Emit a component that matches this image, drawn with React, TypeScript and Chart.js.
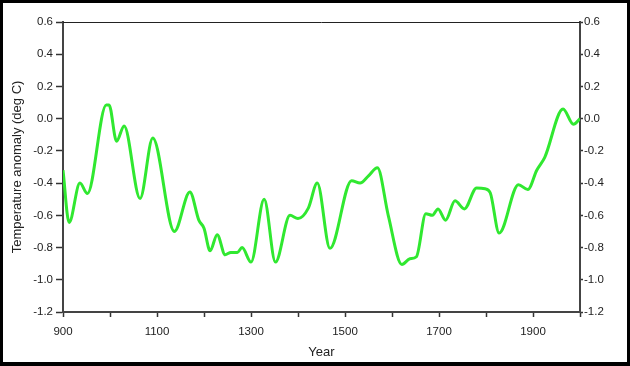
import React, { useEffect, useRef } from "react";
import { Chart, registerables } from "chart.js";

Chart.register(...registerables);

const years: number[] = [
  900, 913, 936, 952, 992, 998, 1014, 1030, 1064, 1091, 1137, 1170, 1189, 1200,
  1213, 1228, 1245, 1257, 1271, 1281, 1300, 1328, 1352, 1383, 1400, 1422, 1441,
  1468, 1514, 1532, 1550, 1569, 1592, 1621, 1638, 1652, 1672, 1686, 1698, 1714,
  1734, 1754, 1780, 1798, 1809, 1828, 1869, 1889, 1908, 1925, 1964, 1986, 2000,
];

const anomaly: number[] = [
  -0.32, -0.645, -0.4, -0.465, 0.085, 0.085, -0.14, -0.045, -0.495, -0.12, -0.7,
  -0.455, -0.63, -0.68, -0.82, -0.72, -0.845, -0.83, -0.83, -0.8, -0.89, -0.5,
  -0.89, -0.6, -0.62, -0.555, -0.4, -0.805, -0.385, -0.4, -0.355, -0.305, -0.6,
  -0.905, -0.87, -0.857, -0.59, -0.6, -0.56, -0.63, -0.51, -0.56, -0.43, -0.435,
  -0.46, -0.71, -0.41, -0.44, -0.32, -0.24, 0.06, -0.035, 0.0,
];

const xMin = 900;
const xMax = 2000;
const xStep = 100;
const xLabelEvery = 200;
const yMin = -1.2;
const yMax = 0.6;
const yStep = 0.2;
const yTitle = "Temperature anomaly (deg C)";
const xTitle = "Year";

const FONT = "Arial, 'Liberation Sans', sans-serif";

const framePlugin = {
  id: "frame",
  beforeDraw(chart: any) {
    const { ctx, width, height } = chart;
    ctx.save();
    ctx.fillStyle = "#ffffff";
    ctx.fillRect(0, 0, width, height);
    ctx.restore();
  },
  afterDraw(chart: any) {
    const { ctx, width, height, chartArea } = chart;
    ctx.save();
    ctx.strokeStyle = "#222";
    ctx.lineWidth = 1;
    ctx.beginPath();
    ctx.moveTo(chartArea.left, chartArea.top + 0.5);
    ctx.lineTo(chartArea.right, chartArea.top + 0.5);
    ctx.stroke();
    ctx.fillStyle = "#000";
    ctx.fillRect(0, 0, width, 3);
    ctx.fillRect(0, height - 4, width, 4);
    ctx.fillRect(0, 0, 3, height);
    ctx.fillRect(width - 3, 0, 3, height);
    ctx.restore();
  },
};

export default function App() {
  const ref = useRef<HTMLCanvasElement | null>(null);

  useEffect(() => {
    document.body.style.margin = "0";
    if (!ref.current) return;
    const fmt = (v: any) => {
      const n = Math.abs(Number(v)) < 1e-9 ? 0 : Number(v);
      return n.toFixed(1);
    };
    const tickFont = { family: FONT, size: 11.5 };
    const chart = new Chart(ref.current, {
      type: "line",
      data: {
        datasets: [
          {
            data: years.map((y, i) => ({ x: y, y: anomaly[i] })),
            borderColor: "#30e830",
            borderWidth: 3,
            pointRadius: 0,
            cubicInterpolationMode: "monotone",
            fill: false,
          },
        ],
      },
      options: {
        animation: false,
        responsive: false,
        plugins: { legend: { display: false }, tooltip: { enabled: false } },
        layout: { padding: { left: 4, right: 4, top: 22, bottom: 4 } },
        scales: {
          x: {
            type: "linear",
            min: xMin,
            max: xMax,
            ticks: {
              stepSize: xStep,
              autoSkip: false,
              maxRotation: 0,
              padding: 8,
              color: "#222",
              font: tickFont,
              callback: (v: any) =>
                (Number(v) - xMin) % xLabelEvery === 0 ? String(v) : "",
            },
            grid: {
              drawOnChartArea: false,
              drawTicks: true,
              tickLength: 5,
              tickColor: "#333",
              tickWidth: 1.5,
            },
            border: { display: true, color: "#444", width: 2 },
            title: {
              display: true,
              text: xTitle,
              color: "#222",
              font: { family: FONT, size: 13 },
              padding: { top: 0, bottom: 2 },
            },
            afterFit: (s: any) => {
              s.height = 50;
            },
          },
          y: {
            position: "left",
            min: yMin,
            max: yMax,
            ticks: {
              stepSize: yStep,
              padding: 3,
              color: "#222",
              font: tickFont,
              callback: fmt,
            },
            grid: {
              drawOnChartArea: false,
              drawTicks: true,
              tickLength: 7,
              tickColor: "#333",
              tickWidth: 1.5,
            },
            border: { display: true, color: "#444", width: 2 },
            title: {
              display: true,
              text: yTitle,
              color: "#222",
              font: { family: FONT, size: 13 },
              padding: { top: 6, bottom: 0 },
            },
            afterFit: (s: any) => {
              s.width = 59;
            },
          },
          y2: {
            position: "right",
            min: yMin,
            max: yMax,
            ticks: {
              stepSize: yStep,
              padding: 1,
              color: "#222",
              font: tickFont,
              callback: fmt,
            },
            grid: {
              drawOnChartArea: false,
              drawTicks: true,
              tickLength: 3,
              tickColor: "#333",
              tickWidth: 1.5,
            },
            border: { display: true, color: "#444", width: 2 },
            afterFit: (s: any) => {
              s.width = 46;
            },
          },
        },
      },
      plugins: [framePlugin],
    } as any);
    return () => chart.destroy();
  }, []);

  return (
    <div style={{ width: 630, height: 366 }}>
      <canvas ref={ref} width={630} height={366} style={{ display: "block" }} />
    </div>
  );
}
